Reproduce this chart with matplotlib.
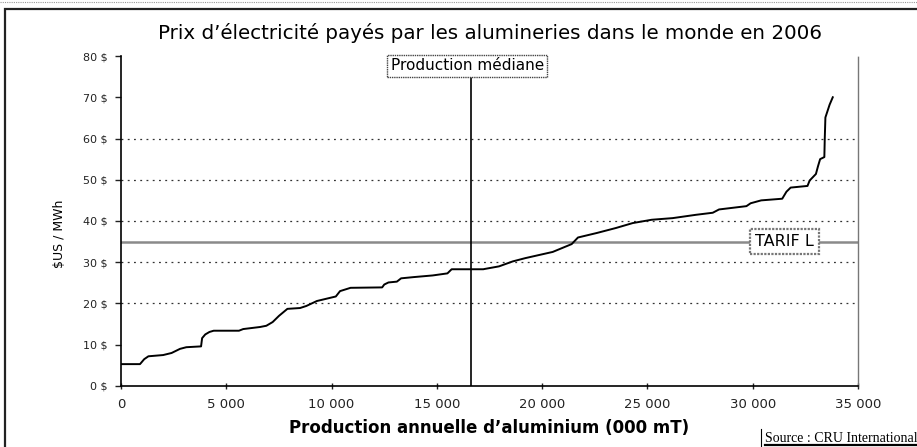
import matplotlib.pyplot as plt
from matplotlib.patches import Rectangle
from matplotlib.lines import Line2D

# production cumulee (000 mT) et prix ($US/MWh)
production = [0, 900, 1100, 1300, 2000, 2400, 2800, 3100, 3800, 3850, 4000, 4200,
              4400, 5600, 5800, 6600, 6900, 7200, 7500, 7900, 8500, 8800, 9300,
              10200, 10400, 10900, 12400, 12500, 12700, 13100, 13300, 13900, 14800,
              15500, 15700, 17200, 17300, 17950, 18600, 19200, 20500, 21400, 21700,
              22600, 23500, 24300, 25200, 26200, 27300, 28100, 28400, 29700, 29900,
              30400, 31400, 31600, 31800, 32600, 32700, 33000, 33100, 33200, 33400,
              33420, 33450, 33650, 33800]
prix = [5.3, 5.3, 6.5, 7.2, 7.5, 8.0, 9.0, 9.4, 9.6, 11.6, 12.5, 13.1,
        13.4, 13.4, 13.8, 14.3, 14.6, 15.5, 17.0, 18.7, 18.9, 19.4, 20.6,
        21.7, 23.0, 23.8, 23.9, 24.6, 25.1, 25.3, 26.1, 26.4, 26.8,
        27.3, 28.3, 28.3, 28.4, 29.0, 30.2, 31.0, 32.5, 34.4, 36.0,
        37.1, 38.3, 39.5, 40.3, 40.7, 41.5, 42.0, 42.8, 43.6, 44.3,
        45.0, 45.4, 47.1, 48.1, 48.5, 49.8, 51.4, 53.3, 55.0, 55.5,
        60.0, 65.1, 68.2, 70.0]

yticks = [0, 10, 20, 30, 40, 50, 60, 70, 80]
ytick_labels = ['%d $' % v for v in yticks]
xticks = [0, 5000, 10000, 15000, 20000, 25000, 30000, 35000]
xtick_labels = ['0', '5 000', '10 000', '15 000', '20 000', '25 000', '30 000', '35 000']
grid_lines = [20, 30, 40, 50, 60]

mediane = 16600
tarif_l = 35

plt.rcParams['font.family'] = ['DejaVu Sans']

fig = plt.figure(figsize=(9.17, 4.47), dpi=100)
ax = fig.add_axes([0.132, 0.1365, 0.8037, 0.7382])

for g in grid_lines:
    ax.axhline(g, color='#333333', lw=0.9, ls=(0, (1.5, 3.5)), zorder=1)

ax.axhline(tarif_l, color='#8a8a8a', lw=1.8, zorder=2)
ax.axvline(mediane, ymax=75.5 / 80, color='black', lw=1.2, zorder=3)
ax.plot(production, prix, color='black', lw=1.4, zorder=4)

ax.text(mediane - 150, 77.6, 'Production médiane', ha='center', va='center', fontsize=11,
        bbox=dict(boxstyle='square,pad=0.22', fc='white', ec='#444444', lw=1.0,
                  ls=(0, (1, 0.6))), zorder=5)
ax.text(31500, tarif_l, 'TARIF L', ha='center', va='center', fontsize=11.5,
        bbox=dict(boxstyle='square,pad=0.3', fc='white', ec='#777777', lw=1.6,
                  ls=(0, (1, 0.6))), zorder=5)

ax.set_xlim(0, 35000)
ax.set_ylim(0, 80)
ax.set_yticks(yticks)
ax.set_yticklabels(ytick_labels, fontsize=8)
ax.set_xticks(xticks)
ax.set_xticklabels(xtick_labels, fontsize=9.5)
ax.tick_params(axis='y', direction='out', length=4, width=1, pad=6, colors='#222222')
ax.tick_params(axis='x', direction='inout', length=5, width=1, pad=6, colors='#222222')

ax.spines['top'].set_visible(False)
ax.spines['right'].set_color('#777777')
ax.spines['right'].set_linestyle((0, (1, 1)))
ax.spines['right'].set_linewidth(1.0)
ax.spines['left'].set_linewidth(1.2)
ax.spines['bottom'].set_linewidth(1.2)

ax.set_title("Prix d’électricité payés par les alumineries dans le monde en 2006",
             fontsize=14.3, pad=12)
ax.set_ylabel('$US / MWh', fontsize=9)
ax.yaxis.set_label_coords(-0.075, 0.46)
ax.set_xlabel('Production annuelle d’aluminium (000 mT)', fontsize=12,
              fontweight='bold', labelpad=6)

# cadre exterieur
fig.patches.append(Rectangle((5 / 917, -0.1), 1.0, 1 - 9 / 447 + 0.1,
                             transform=fig.transFigure, fill=False,
                             ec='#222222', lw=1.6))
fig.lines.append(Line2D([0, 1], [1 - 1.5 / 447] * 2, transform=fig.transFigure,
                        color='#999999', lw=0.8, ls=(0, (1, 1))))

# source
fig.text(765 / 917, 1 - 438 / 447, 'Source : CRU International', fontsize=10,
         family='Liberation Serif', ha='left', va='center')
fig.lines.append(Line2D([761 / 917] * 2, [1 - 429 / 447, 0], transform=fig.transFigure,
                        color='black', lw=0.8))
fig.lines.append(Line2D([765 / 917, 1], [1 - 445 / 447] * 2, transform=fig.transFigure,
                        color='black', lw=1.6))

fig.savefig('out.png', dpi=100)
